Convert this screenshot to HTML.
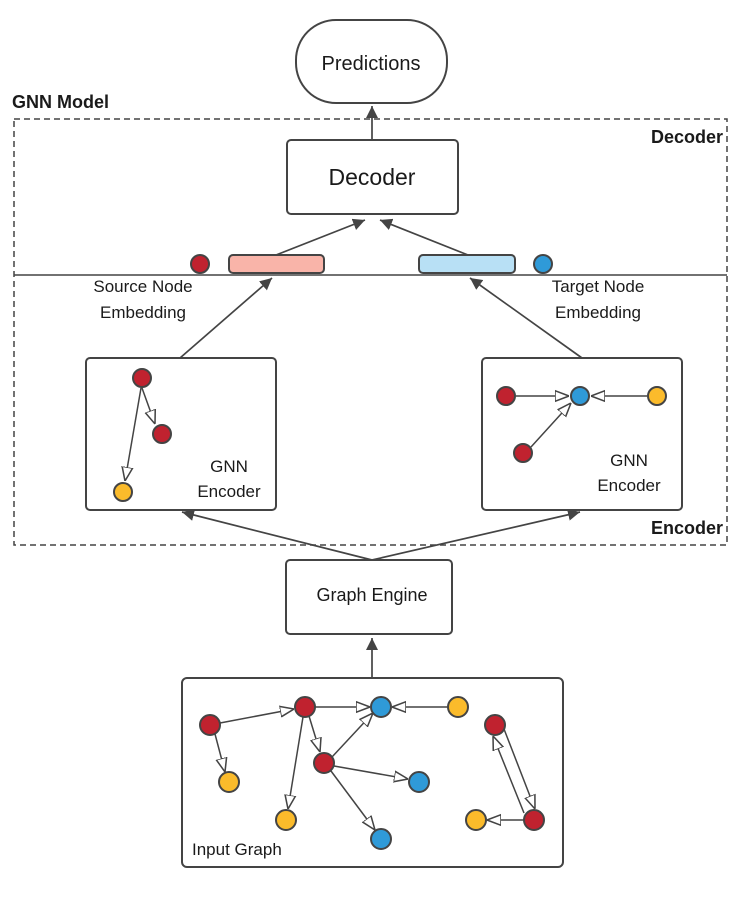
<!DOCTYPE html>
<html><head><meta charset="utf-8"><style>
html,body{margin:0;padding:0;background:#fff}
svg{display:block}
text{font-family:"Liberation Sans",sans-serif;fill:#1a1a1a}
</style></head><body>
<svg width="741" height="897" viewBox="0 0 741 897" xmlns="http://www.w3.org/2000/svg">
<defs>
<marker id="f" viewBox="0 0 10 10" refX="10" refY="5" markerWidth="12" markerHeight="12" markerUnits="userSpaceOnUse" orient="auto"><path d="M0,0 L10,5 L0,10 z" fill="#444"/></marker>
<marker id="o" viewBox="0 0 10 10" refX="10" refY="5" markerWidth="14" markerHeight="14" markerUnits="userSpaceOnUse" orient="auto"><path d="M0,1.2 L10,5 L0,8.8 z" fill="#fff" stroke="#444" stroke-width="1.1"/></marker>
</defs>
<g stroke="#444" stroke-width="2" fill="none">
<rect x="14" y="119" width="713" height="426" stroke-dasharray="6,4" stroke-width="1.5"/>
<line x1="14" y1="275" x2="727" y2="275" stroke-width="1.6"/>
<rect x="296" y="20" width="151" height="83" rx="40" fill="#fff"/>
<rect x="287" y="140" width="171" height="74" rx="4" fill="#fff"/>
<rect x="286" y="560" width="166" height="74" rx="4" fill="#fff"/>
<rect x="86" y="358" width="190" height="152" rx="4" fill="#fff"/>
<rect x="482" y="358" width="200" height="152" rx="4" fill="#fff"/>
<rect x="182" y="678" width="381" height="189" rx="5" fill="#fff"/>
<rect x="229" y="255" width="95" height="18" rx="4" fill="#f9b4a9"/>
<rect x="419" y="255" width="96" height="18" rx="4" fill="#b8e0f5"/>
</g>
<g stroke="#444" stroke-width="1.7" fill="none" marker-end="url(#f)">
<line x1="372" y1="140" x2="372" y2="106"/>
<line x1="276" y1="255" x2="365" y2="220"/>
<line x1="468" y1="255" x2="380" y2="220"/>
<line x1="180" y1="358" x2="272" y2="278"/>
<line x1="582" y1="358" x2="470" y2="278"/>
<polyline points="372,560 182,512" />
<polyline points="372,560 580,512" />
<line x1="372" y1="678" x2="372" y2="638"/>
</g>
<g stroke="#444" stroke-width="1.5" fill="none" marker-end="url(#o)">
<line x1="142" y1="388" x2="155" y2="424"/>
<line x1="141" y1="388" x2="125" y2="481"/>
<line x1="516" y1="396" x2="569" y2="396"/>
<line x1="647" y1="396" x2="591" y2="396"/>
<line x1="531" y1="447" x2="571" y2="403"/>
<line x1="220" y1="723" x2="294" y2="709"/>
<line x1="215" y1="734" x2="225" y2="772"/>
<line x1="315" y1="707" x2="370" y2="707"/>
<line x1="448" y1="707" x2="392" y2="707"/>
<line x1="309" y1="716" x2="320" y2="752"/>
<line x1="303" y1="717" x2="288" y2="809"/>
<line x1="332" y1="757" x2="373" y2="713"/>
<line x1="334" y1="766" x2="408" y2="779"/>
<line x1="331" y1="771" x2="375" y2="830"/>
<line x1="504" y1="729" x2="535" y2="809"/>
<line x1="524" y1="813" x2="493" y2="736"/>
<line x1="524" y1="820" x2="487" y2="820"/>
</g>
<g stroke="#444" stroke-width="2">
<circle cx="200" cy="264" r="9" fill="#c0222f"/>
<circle cx="543" cy="264" r="9" fill="#2f9ad8"/>
<circle cx="142" cy="378" r="9" fill="#c0222f"/>
<circle cx="162" cy="434" r="9" fill="#c0222f"/>
<circle cx="123" cy="492" r="9" fill="#fbbb2b"/>
<circle cx="506" cy="396" r="9" fill="#c0222f"/>
<circle cx="580" cy="396" r="9" fill="#2f9ad8"/>
<circle cx="657" cy="396" r="9" fill="#fbbb2b"/>
<circle cx="523" cy="453" r="9" fill="#c0222f"/>
<circle cx="210" cy="725" r="10" fill="#c0222f"/>
<circle cx="229" cy="782" r="10" fill="#fbbb2b"/>
<circle cx="305" cy="707" r="10" fill="#c0222f"/>
<circle cx="381" cy="707" r="10" fill="#2f9ad8"/>
<circle cx="458" cy="707" r="10" fill="#fbbb2b"/>
<circle cx="324" cy="763" r="10" fill="#c0222f"/>
<circle cx="419" cy="782" r="10" fill="#2f9ad8"/>
<circle cx="286" cy="820" r="10" fill="#fbbb2b"/>
<circle cx="381" cy="839" r="10" fill="#2f9ad8"/>
<circle cx="495" cy="725" r="10" fill="#c0222f"/>
<circle cx="534" cy="820" r="10" fill="#c0222f"/>
<circle cx="476" cy="820" r="10" fill="#fbbb2b"/>
</g>
<text x="371" y="70" font-size="20" text-anchor="middle">Predictions</text>
<text x="372" y="185" font-size="23" text-anchor="middle">Decoder</text>
<text x="372" y="601" font-size="18" text-anchor="middle">Graph Engine</text>
<text x="12" y="108" font-size="18" font-weight="bold">GNN Model</text>
<text x="723" y="143" font-size="18" font-weight="bold" text-anchor="end">Decoder</text>
<text x="723" y="534" font-size="18" font-weight="bold" text-anchor="end">Encoder</text>
<text x="143" y="292" font-size="17" text-anchor="middle">Source Node</text>
<text x="143" y="318" font-size="17" text-anchor="middle">Embedding</text>
<text x="598" y="292" font-size="17" text-anchor="middle">Target Node</text>
<text x="598" y="318" font-size="17" text-anchor="middle">Embedding</text>
<text x="229" y="472" font-size="17" text-anchor="middle">GNN</text>
<text x="229" y="497" font-size="17" text-anchor="middle">Encoder</text>
<text x="629" y="466" font-size="17" text-anchor="middle">GNN</text>
<text x="629" y="491" font-size="17" text-anchor="middle">Encoder</text>
<text x="192" y="855" font-size="17">Input Graph</text>
</svg>
</body></html>
